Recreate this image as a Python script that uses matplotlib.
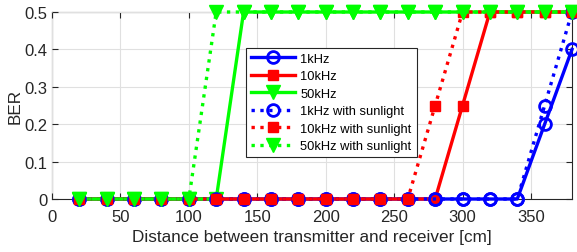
import matplotlib.pyplot as plt

plt.rcParams['font.family'] = ['Liberation Sans', 'DejaVu Sans']

distance = [20, 40, 60, 80, 100, 120, 140, 160, 180, 200, 220, 240, 260, 280, 300, 320, 340, 360, 380]
ber_1k = [0, 0, 0, 0, 0, 0, 0, 0, 0, 0, 0, 0, 0, 0, 0, 0, 0, 0.2, 0.4]
ber_10k = [0, 0, 0, 0, 0, 0, 0, 0, 0, 0, 0, 0, 0, 0, 0.25, 0.5, 0.5, 0.5, 0.5]
ber_50k = [0, 0, 0, 0, 0, 0, 0.5, 0.5, 0.5, 0.5, 0.5, 0.5, 0.5, 0.5, 0.5, 0.5, 0.5, 0.5, 0.5]
ber_1k_sun = [0, 0, 0, 0, 0, 0, 0, 0, 0, 0, 0, 0, 0, 0, 0, 0, 0, 0.25, 0.5]
ber_10k_sun = [0, 0, 0, 0, 0, 0, 0, 0, 0, 0, 0, 0, 0, 0.25, 0.5, 0.5, 0.5, 0.5, 0.5]
ber_50k_sun = [0, 0, 0, 0, 0, 0.5, 0.5, 0.5, 0.5, 0.5, 0.5, 0.5, 0.5, 0.5, 0.5, 0.5, 0.5, 0.5, 0.5]

fig = plt.figure(figsize=(5.77, 2.53), dpi=100)
ax = fig.add_axes([52 / 577, 53 / 253, 520 / 577, 187 / 253])

blue, red, green = '#0000ff', '#ff0000', '#00ff00'
lw = 2.4
kw = dict(lw=lw, clip_on=False)
ax.plot(distance, ber_1k, '-', color=blue, marker='o', ms=8.5, mfc='none', mew=2, label='1kHz', **kw)
ax.plot(distance, ber_10k, '-', color=red, marker='s', ms=7, mfc=red, label='10kHz', **kw)
ax.plot(distance, ber_50k, '-', color=green, marker='v', ms=10, mfc=green, label='50kHz', **kw)
ax.plot(distance, ber_1k_sun, ':', color=blue, marker='o', ms=8.5, mfc='none', mew=2, label='1kHz with sunlight', **kw)
ax.plot(distance, ber_10k_sun, ':', color=red, marker='s', ms=7, mfc=red, label='10kHz with sunlight', **kw)
ax.plot(distance, ber_50k_sun, ':', color=green, marker='v', ms=10, mfc=green, label='50kHz with sunlight', **kw)

ax.set_xlim(0, 380)
ax.set_ylim(0, 0.5)
ax.set_xticks([0, 50, 100, 150, 200, 250, 300, 350])
ax.set_yticks([0, 0.1, 0.2, 0.3, 0.4, 0.5])
ax.set_yticklabels(['0', '0.1', '0.2', '0.3', '0.4', '0.5'])
ax.grid(True, color='#e0e0e0', lw=0.8)
ax.set_axisbelow(True)
ax.tick_params(direction='in', top=True, right=True, labelsize=12, colors='#262626', length=4)
ax.tick_params(axis='x', pad=7)
for s in ax.spines.values():
    s.set_color('#262626')
    s.set_linewidth(0.8)
    s.set_zorder(0.5)
ax.set_xlabel('Distance between transmitter and receiver [cm]', fontsize=12.3, color='#262626', labelpad=4)
ax.set_ylabel('BER', fontsize=12.3, color='#262626', labelpad=1)

leg = ax.legend(loc='upper left', bbox_to_anchor=(0.373, 0.81), fontsize=9.3, frameon=True,
                fancybox=False, edgecolor='#262626', framealpha=1, handlelength=3.4,
                handletextpad=0.4, borderpad=0.4, labelspacing=0.42, borderaxespad=0)
leg.get_frame().set_linewidth(0.8)

fig.savefig('out.png', dpi=100)
